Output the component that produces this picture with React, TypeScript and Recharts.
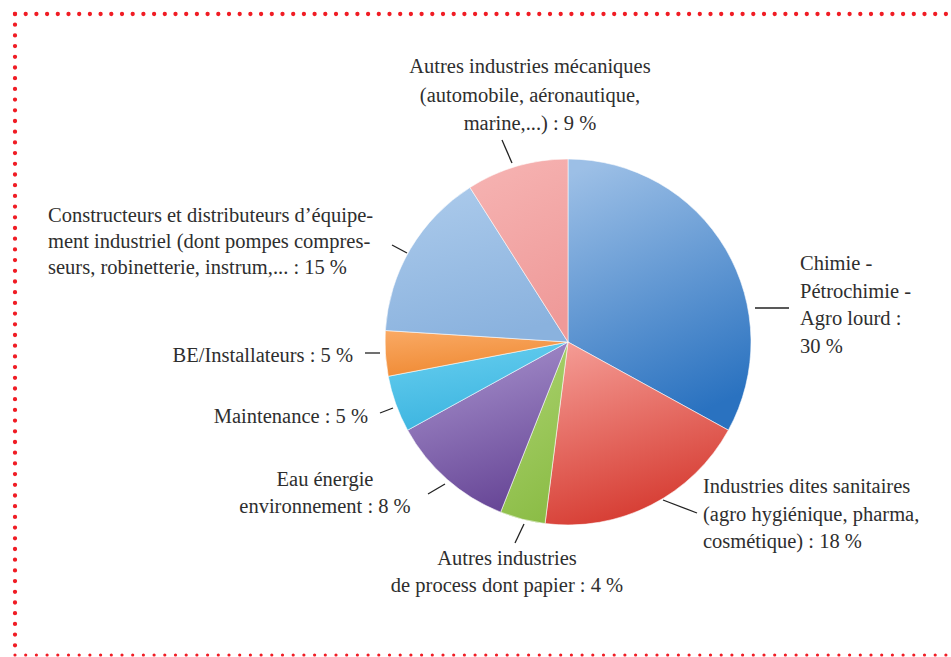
import React from 'react';
import { PieChart, Pie, Cell } from 'recharts';

// ── Data ────────────────────────────────────────────────────

const sectors = [
  'Chimie',
  'Sanitaires',
  'Process',
  'Eau',
  'Maintenance',
  'BE',
  'Constructeurs',
  'Mecaniques',
];

// slice sizes as drawn in the picture (share of the full circle)
const sliceValues = [33, 19, 4, 11, 5, 4, 15, 9];

const labelLines = [
  ['Chimie -', 'Pétrochimie -', 'Agro lourd :', '30 %'],
  ['Industries dites sanitaires', '(agro hygiénique, pharma,', 'cosmétique) : 18 %'],
  ['Autres industries', 'de process dont papier : 4 %'],
  ['Eau énergie', 'environnement : 8 %'],
  ['Maintenance : 5 %'],
  ['BE/Installateurs : 5 %'],
  [
    'Constructeurs et distributeurs d’équipe-',
    'ment industriel (dont pompes compres-',
    'seurs, robinetterie, instrum,... : 15 %',
  ],
  ['Autres industries mécaniques', '(automobile, aéronautique,', 'marine,...) : 9 %'],
];

// ── Styles ──────────────────────────────────────────────────

const GRADIENTS: [string, string][] = [
  ['#9cbfe6', '#2a72c0'],
  ['#f49a93', '#d5392f'],
  ['#abd26f', '#8cbd47'],
  ['#a893ce', '#684797'],
  ['#66ceef', '#3ab3df'],
  ['#f9a862', '#ef8932'],
  ['#abcaeb', '#8ab2de'],
  ['#f6b3b2', '#ef9a99'],
];

const TEXT_COLOR = '#2e2e2e';
const FONT = 'Liberation Serif';
const FONT_SIZE = 20.5;

const CX = 568;
const CY = 342;
const RADIUS = 183;

// label placement relative to the pie centre
const labelLayout = [
  { x: 232, y: -72, anchor: 'start', step: 27.7, line: [187, -34, 221, -34] },
  { x: 135, y: 151, anchor: 'start', step: 27.5, line: [95, 158, 129, 171] },
  { x: -61, y: 223, anchor: 'middle', step: 27, line: [-44, 182, -53, 201] },
  { x: -243, y: 144, anchor: 'middle', step: 27, line: [-123, 142, -140, 152] },
  { x: -200, y: 81, anchor: 'end', step: 27, line: [-188, 71, -175, 66] },
  { x: -215, y: 20, anchor: 'end', step: 27, line: [-203, 11, -188, 11] },
  { x: -520, y: -120, anchor: 'start', step: 26, line: [-176, -97, -161, -89] },
  { x: -38, y: -269, anchor: 'middle', step: 28.5, line: [-66, -202, -56, -179] },
];

const chartData = sectors.map((name, i) => ({ name, value: sliceValues[i] }));

// ── Label ───────────────────────────────────────────────────

function SliceLabel(props: any) {
  const { cx, cy, index } = props;
  const layout = labelLayout[index];
  const lines = labelLines[index];
  if (!layout) return null;
  const [x1, y1, x2, y2] = layout.line;
  return (
    <g fontFamily={FONT} style={{ fontFamily: FONT }}>
      <line
        x1={cx + x1}
        y1={cy + y1}
        x2={cx + x2}
        y2={cy + y2}
        stroke="#222"
        strokeWidth={1.3}
      />
      <text
        x={cx + layout.x}
        y={cy + layout.y}
        textAnchor={layout.anchor}
        fill={TEXT_COLOR}
        fontFamily={FONT}
        fontSize={FONT_SIZE}
        style={{ fontFamily: FONT, fontSize: FONT_SIZE }}
      >
        {lines.map((t, i) => (
          <tspan
            key={i}
            x={cx + layout.x}
            y={cy + layout.y + i * layout.step}
            style={{ fontFamily: FONT }}
          >
            {t}
          </tspan>
        ))}
      </text>
    </g>
  );
}

// ── Frame ───────────────────────────────────────────────────

function DottedFrame() {
  const dot = {
    stroke: '#f01c24',
    strokeWidth: 4.3,
    strokeLinecap: 'round' as const,
    strokeDasharray: '0 10.7',
  };
  return (
    <svg
      width={951}
      height={657}
      style={{ position: 'absolute', left: 0, top: 0, pointerEvents: 'none' }}
    >
      <line x1={15} y1={14} x2={951} y2={14} {...dot} />
      <line x1={15} y1={14} x2={15} y2={650} {...dot} />
      <line x1={15} y1={655} x2={951} y2={655} {...dot} strokeWidth={3.2} />
    </svg>
  );
}

export default function App() {
  return (
    <div
      style={{
        position: 'absolute',
        left: 0,
        top: 0,
        width: 951,
        height: 657,
        background: '#fff',
        fontFamily: FONT,
      }}
    >
      <PieChart
        width={951}
        height={657}
        margin={{ top: 0, right: 0, bottom: 0, left: 0 }}
        style={{ fontFamily: FONT }}
      >
        <defs>
          {GRADIENTS.map(([from, to], i) => (
            <linearGradient key={i} id={`slice-grad-${i}`} x1="0.2" y1="0" x2="0.5" y2="1">
              <stop offset="0%" stopColor={from} />
              <stop offset="100%" stopColor={to} />
            </linearGradient>
          ))}
        </defs>
        <Pie
          data={chartData}
          dataKey="value"
          nameKey="name"
          cx={CX}
          cy={CY}
          outerRadius={RADIUS}
          startAngle={90}
          endAngle={-270}
          stroke="rgba(255,255,255,0.55)"
          strokeWidth={1}
          label={SliceLabel}
          labelLine={false}
          isAnimationActive={false}
        >
          {chartData.map((d, i) => (
            <Cell key={d.name} fill={`url(#slice-grad-${i})`} />
          ))}
        </Pie>
      </PieChart>
      <DottedFrame />
    </div>
  );
}
